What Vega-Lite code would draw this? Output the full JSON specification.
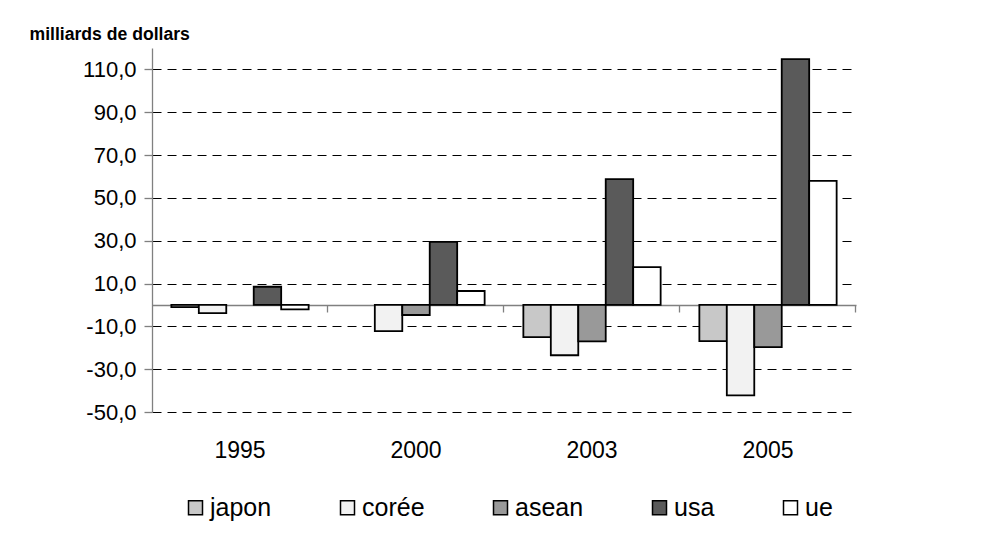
{
  "$schema": "https://vega.github.io/schema/vega-lite/v6.json",
  "autosize": {"type": "none"},
  "width": 704,
  "height": 364,
  "padding": {"left": 152, "top": 48, "right": 126, "bottom": 132},
  "background": "white",
  "config": {
    "font": "Liberation Sans",
    "view": {"stroke": null}
  },
  "data": {
    "values": [
      {"annee": "1995", "zone": "japon", "solde": -1.0},
      {"annee": "1995", "zone": "corée", "solde": -3.8},
      {"annee": "1995", "zone": "asean", "solde": 0},
      {"annee": "1995", "zone": "usa", "solde": 8.5},
      {"annee": "1995", "zone": "ue", "solde": -2.1},
      {"annee": "2000", "zone": "japon", "solde": 0},
      {"annee": "2000", "zone": "corée", "solde": -12.2},
      {"annee": "2000", "zone": "asean", "solde": -4.7},
      {"annee": "2000", "zone": "usa", "solde": 29.5},
      {"annee": "2000", "zone": "ue", "solde": 6.5},
      {"annee": "2003", "zone": "japon", "solde": -15.0},
      {"annee": "2003", "zone": "corée", "solde": -23.5},
      {"annee": "2003", "zone": "asean", "solde": -17.0},
      {"annee": "2003", "zone": "usa", "solde": 58.8},
      {"annee": "2003", "zone": "ue", "solde": 17.7},
      {"annee": "2005", "zone": "japon", "solde": -16.9},
      {"annee": "2005", "zone": "corée", "solde": -42.2},
      {"annee": "2005", "zone": "asean", "solde": -19.7},
      {"annee": "2005", "zone": "usa", "solde": 114.8},
      {"annee": "2005", "zone": "ue", "solde": 57.9}
    ]
  },
  "resolve": {"axis": {"x": "independent"}},
  "layer": [
    {
      "mark": {"type": "bar", "stroke": "black", "strokeWidth": 1.8, "opacity": 1},
      "encoding": {
        "x": {
          "field": "annee", "type": "nominal",
          "scale": {"paddingInner": 0.22, "paddingOuter": 0.11},
          "axis": {
            "title": null, "domain": false, "ticks": false, "grid": false,
            "labelAngle": 0, "labelFontSize": 23, "labelColor": "black",
            "labelPadding": 27
          }
        },
        "xOffset": {
          "field": "zone", "type": "nominal",
          "scale": {"domain": ["japon", "corée", "asean", "usa", "ue"], "paddingInner": 0, "paddingOuter": 0}
        },
        "y": {
          "field": "solde", "type": "quantitative",
          "scale": {"domain": [-50, 120], "nice": false, "zero": false},
          "axis": {
            "title": "milliards de dollars",
            "titleAngle": 0, "titleX": -123, "titleY": -9,
            "titleAlign": "left", "titleBaseline": "alphabetic",
            "titleFontSize": 17.6, "titleFontWeight": "bold", "titleColor": "black",
            "values": [-50, -30, -10, 10, 30, 50, 70, 90, 110],
            "labelExpr": "replace(replace(format(datum.value, '.1f'), '.', ','), '\u2212', '-')",
            "labelFontSize": 22, "labelColor": "black", "labelPadding": 8,
            "domainColor": "#808080", "domainWidth": 1.3,
            "tickColor": "#808080", "tickSize": 8, "tickWidth": 1.3,
            "grid": true, "gridColor": "black", "gridDash": [9, 6], "gridWidth": 1
          }
        },
        "strokeOpacity": {
          "condition": {"test": "datum.solde === 0", "value": 0},
          "value": 1
        },
        "color": {
          "field": "zone", "type": "nominal",
          "scale": {
            "domain": ["japon", "corée", "asean", "usa", "ue"],
            "range": ["#c8c8c8", "#f2f2f2", "#999999", "#5a5a5a", "#ffffff"]
          },
          "legend": {
            "title": null, "orient": "none", "direction": "horizontal",
            "legendX": 31, "legendY": 447,
            "symbolType": "square", "symbolSize": 196, "symbolStrokeColor": "black",
            "symbolStrokeWidth": 1.5, "symbolOpacity": 1,
            "labelFontSize": 25, "labelColor": "black", "labelOffset": 2,
            "columnPadding": 63
          }
        }
      }
    },
    {
      "mark": {"type": "point", "opacity": 0},
      "encoding": {
        "x": {
          "field": "annee", "type": "nominal",
          "axis": {
            "orient": "bottom",
            "title": null, "labels": false, "grid": false,
            "domain": true, "domainColor": "#808080", "domainWidth": 1.3,
            "ticks": true, "tickColor": "#808080", "tickSize": 7, "tickWidth": 1.3,
            "bandPosition": 1.141, "tickExtra": false,
            "offset": -107
          }
        },
        "y": {"datum": 0, "type": "quantitative"}
      }
    }
  ]
}
